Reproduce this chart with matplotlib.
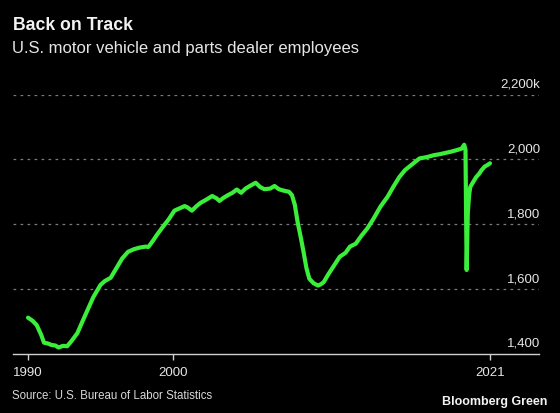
import matplotlib
matplotlib.use("Agg")
import matplotlib.pyplot as plt
import matplotlib.transforms as mtransforms

plt.rcParams['font.family'] = ['Liberation Sans', 'DejaVu Sans']

# ---- data (thousands of employees) ----
years = [1990.0, 1990.3, 1990.6, 1990.9, 1991.1, 1991.4, 1991.6, 1991.9, 1992.1, 1992.4,
         1992.7, 1993.0, 1993.4, 1993.8, 1994.1, 1994.5, 1995.0, 1995.3, 1995.7, 1996.1,
         1996.5, 1996.9, 1997.3, 1997.7, 1998.1, 1998.3, 1998.6, 1998.9, 1999.3, 1999.7,
         2000.1, 2000.5, 2000.8, 2001.0, 2001.3, 2001.6, 2001.9, 2002.3, 2002.7, 2003.0,
         2003.2, 2003.5, 2003.8, 2004.1, 2004.4, 2004.7, 2005.0, 2005.3, 2005.7, 2006.0,
         2006.3, 2006.7, 2007.0, 2007.3, 2007.6, 2008.0, 2008.2, 2008.4, 2008.6, 2008.8,
         2009.0, 2009.2, 2009.4, 2009.7, 2010.0, 2010.2, 2010.4, 2010.7, 2011.05, 2011.5,
         2011.9, 2012.2, 2012.6, 2013.0, 2013.4, 2013.8, 2014.3, 2014.8, 2015.2, 2015.6,
         2016.0, 2016.5, 2017.0, 2017.5, 2018.0, 2018.4, 2018.9, 2019.2, 2019.6, 2019.9,
         2020.08, 2020.17, 2020.25, 2020.33, 2020.42, 2020.5, 2020.67, 2020.9, 2021.1, 2021.3,
         2021.5, 2021.7, 2021.86]
employees = [1512, 1503, 1489, 1460, 1435, 1432, 1428, 1426, 1420, 1425,
             1424, 1440, 1464, 1505, 1535, 1575, 1613, 1625, 1635, 1665,
             1695, 1715, 1723, 1728, 1731, 1730, 1748, 1768, 1792, 1815,
             1842, 1850, 1856, 1852, 1842, 1855, 1866, 1876, 1887, 1880,
             1872, 1882, 1890, 1897, 1907, 1897, 1910, 1918, 1928, 1915,
             1908, 1910, 1918, 1908, 1904, 1900, 1890, 1860, 1805, 1762,
             1715, 1665, 1632, 1618, 1611, 1615, 1622, 1645, 1669, 1700,
             1712, 1731, 1740, 1765, 1787, 1815, 1854, 1885, 1916, 1945,
             1967, 1985, 2003, 2007, 2013, 2016, 2021, 2024, 2029, 2033,
             2045, 2030, 1659, 1834, 1890, 1915, 1928, 1945, 1955, 1968,
             1978, 1983, 1988]

xtick_pos = [1990.0, 2000.0, 2021.86]
xtick_labels = ["1990", "2000", "2021"]
ytick_vals = [1400, 1600, 1800, 2000, 2200]
ytick_labels = ["1,400", "1,600", "1,800", "2,000", "2,200k"]

title = "Back on Track"
subtitle = "U.S. motor vehicle and parts dealer employees"
source = "Source: U.S. Bureau of Labor Statistics"
brand = "Bloomberg Green"

W, H = 560, 413
fig = plt.figure(figsize=(W / 100, H / 100), dpi=100, facecolor='black')
ax = fig.add_axes([12.5 / W, (H - 354) / H, (539 - 12.5) / W, (354 - 94.5) / H])
ax.set_facecolor('black')

ax.set_xlim(1988.93, 2025.24)
ax.set_ylim(1400, 2200)

grid_color = '#7a7a7a'
for v in ytick_vals[1:]:
    ax.axhline(v, color=grid_color, lw=0.9, ls=(0, (2.2, 3.4)), zorder=1)

ax.plot(years, employees, color='#3aee3a', lw=3.0, solid_joinstyle='round',
        solid_capstyle='round', zorder=3)

for s in ['top', 'right', 'left']:
    ax.spines[s].set_visible(False)
ax.spines['bottom'].set_color('#d0d0d0')
ax.spines['bottom'].set_linewidth(1.0)

ax.set_yticks([])
ax.set_xticks(xtick_pos)
ax.set_xticklabels(xtick_labels)
ax.tick_params(axis='x', colors='#d0d0d0', length=4, width=1, pad=5.5,
               labelsize=9.5, labelcolor='#e6e6e6')

trans = mtransforms.blended_transform_factory(ax.transAxes, ax.transData)
off = mtransforms.offset_copy(trans, fig=fig, x=1.5, y=4, units='dots')
for v, lab in zip(ytick_vals, ytick_labels):
    ax.text(1.0, v, lab, transform=off, ha='right', va='bottom',
            fontsize=9.5, color='#e6e6e6')

fig.text(13 / W, 1 - 25 / H, title, fontsize=12.7, fontweight='bold', color='#f2f2f2',
         ha='left', va='center')
fig.text(12 / W, 1 - 49 / H, subtitle, fontsize=12, color='#e6e6e6',
         ha='left', va='center')
fig.text(12.5 / W, 1 - 396 / H, source, fontsize=8.3, color='#d9d9d9',
         ha='left', va='center')
fig.text(547 / W, 1 - 401.5 / H, brand, fontsize=9, fontweight='bold', color='#f2f2f2',
         ha='right', va='center')

fig.savefig('out.png', dpi=100, facecolor='black')
